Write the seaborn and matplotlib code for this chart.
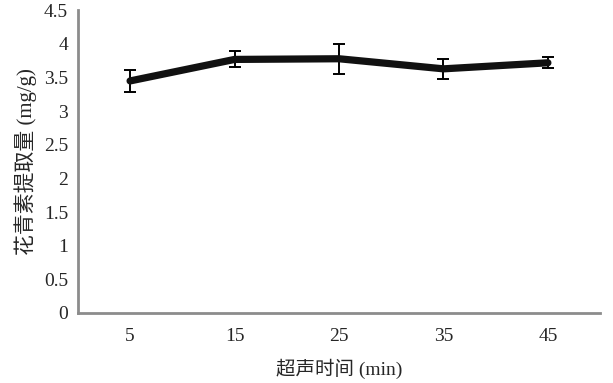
import numpy as np
import pandas as pd
import seaborn as sns
import matplotlib.pyplot as plt
from matplotlib.ticker import FixedLocator, NullFormatter

sns.set_style("white")
plt.rcParams['font.family'] = ['Liberation Serif', 'Noto Sans CJK SC']

# data
times = ["5", "15", "25", "35", "45"]
yield_mean = [3.45, 3.77, 3.78, 3.63, 3.72]
yield_err = [0.16, 0.12, 0.22, 0.15, 0.08]

df = pd.DataFrame({"pos": np.arange(len(times)), "mean": yield_mean, "err": yield_err})

fig = plt.figure(figsize=(6.13, 3.83), dpi=100)
ax = fig.add_axes([0.127, 0.183, 0.852, 0.79])

axis_grey = "#8c8c8c"

# error bars first, line on top
ax.errorbar(df["pos"], df["mean"], yerr=df["err"], fmt="none",
            ecolor="black", elinewidth=1.4, capsize=4.5, capthick=1.4, zorder=2)
sns.lineplot(data=df, x="pos", y="mean", ax=ax, color="#111111",
             linewidth=5.2, solid_capstyle="round", zorder=3)

ax.set_xlim(-0.5, len(times) - 0.5)
ax.set_ylim(0, 4.5)
ax.set_yticks(np.arange(0, 4.51, 0.5))
ax.set_yticklabels(["0", "0.5", "1", "1.5", "2", "2.5", "3", "3.5", "4", "4.5"])

# ticks on category boundaries, labels in the middle
ax.xaxis.set_major_locator(FixedLocator(np.arange(-0.5, len(times), 1.0)))
ax.xaxis.set_major_formatter(NullFormatter())
ax.xaxis.set_minor_locator(FixedLocator(df["pos"]))
ax.set_xticklabels(times, minor=True)
ax.tick_params(axis="x", which="minor", length=0, labelsize=14, pad=11)
ax.tick_params(axis="x", which="major", length=5, width=2, color=axis_grey, direction="out")
ax.tick_params(axis="y", length=5, width=2, color=axis_grey, direction="out", labelsize=14, pad=2)

for side in ["top", "right"]:
    ax.spines[side].set_visible(False)
for side in ["left", "bottom"]:
    ax.spines[side].set_color(axis_grey)
    ax.spines[side].set_linewidth(2)

ax.set_xlabel("超声时间 (min)", fontsize=14, labelpad=10)
ax.set_ylabel("花青素提取量 (mg/g)", fontsize=15, labelpad=5)

fig.savefig("out.png", dpi=100)
